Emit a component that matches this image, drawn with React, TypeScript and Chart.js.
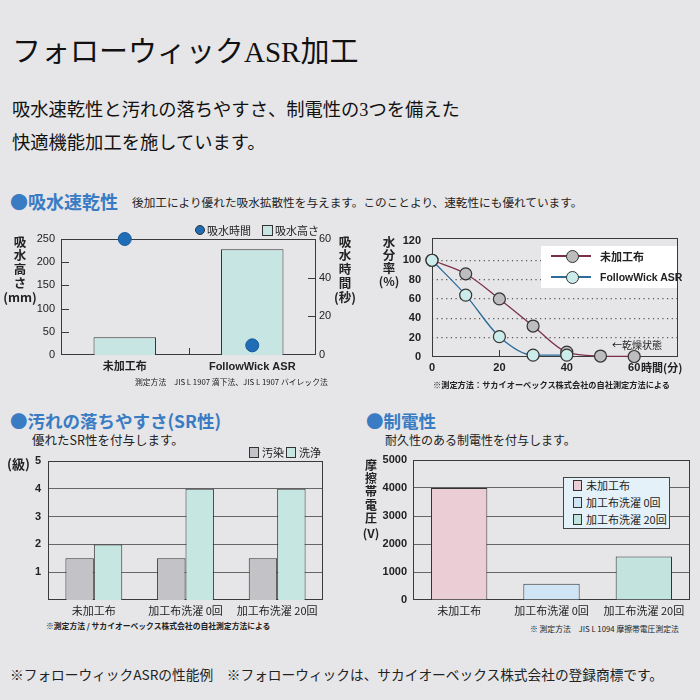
import React, { useEffect, useRef } from "react";
import { Chart, registerables } from "chart.js";
Chart.register(...registerables);

const SANS = "'Liberation Sans', 'Noto Sans CJK JP', sans-serif";
const JP = "'Noto Sans CJK JP', 'Noto Sans', sans-serif";
const SERIF = "'Liberation Serif', 'Noto Sans CJK JP', serif";
const BG = "#e6e6e8";
const BLUE = "#3a7cc3";
const INK = "#222222";
const FRAME = "#3a3a3a";

// ---------- data ----------
const absorbCategories = ["未加工布", "FollowWick ASR"];
const absorbHeightMm = [38, 228];
const absorbTimeSec = [60, 5];
const absorbHeightTicks = [0, 50, 100, 150, 200, 250];
const absorbTimeTicks = [0, 20, 40, 60];

const dryMinutes = [0, 10, 20, 30, 40, 50, 60];
const dryUntreated = [100, 86, 60, 32, 5, 1, 0.5];
const dryFollowWick = [100, 64, 21, 2, 2];
const dryMinuteTicks = [0, 20, 40, 60];
const dryMoistureTicks = [0, 20, 40, 60, 80, 100, 120];

const srCategories = ["未加工布", "加工布洗濯 0回", "加工布洗濯 20回"];
const srStain = [1.5, 1.5, 1.5];
const srWash = [2, 4, 4];
const srGradeTicks = [1, 2, 3, 4, 5];

const staticCategories = ["未加工布", "加工布洗濯 0回", "加工布洗濯 20回"];
const staticVoltage = [4000, 580, 1550];
const staticVoltageTicks = [0, 1000, 2000, 3000, 4000, 5000];
const staticColors = ["#ebcdd5", "#cfe4f4", "#c3e4de"];

// ---------- helpers ----------
type Seg = [number, number, number, number];
function framePlugin(extra?: (c: any) => Seg[]) {
  return {
    id: "frame",
    beforeDatasetsDraw(chart: any) {
      const { ctx, chartArea: a } = chart;
      ctx.save();
      ctx.strokeStyle = FRAME;
      ctx.lineWidth = 1;
      const l = Math.round(a.left) + 0.5;
      const t = Math.round(a.top) + 0.5;
      const r = Math.round(a.right) - 0.5;
      const b = Math.round(a.bottom) - 0.5;
      ctx.strokeRect(l, t, r - l, b - t);
      if (extra) {
        for (const [x1, y1, x2, y2] of extra(chart)) {
          ctx.beginPath();
          ctx.moveTo(x1, y1);
          ctx.lineTo(x2, y2);
          ctx.stroke();
        }
      }
      ctx.restore();
    },
  };
}

const base = {
  responsive: true,
  maintainAspectRatio: false,
  animation: false as const,
  events: [] as any[],
};
const noLegend = { legend: { display: false }, tooltip: { enabled: false } };
const setTicks = (vals: number[]) => (s: any) => {
  s.ticks = vals.map((v) => ({ value: v }));
};
const plain = (v: any) => String(v);
const fixY = (w: number) => (s: any) => {
  s.width = w;
  s.paddingTop = 0;
  s.paddingBottom = 0;
};
const fixX = (h: number) => (s: any) => {
  s.height = h;
  s.paddingLeft = 0;
  s.paddingRight = 0;
};

function ChartBox({ box, make }: { box: any; make: () => any }) {
  const ref = useRef<HTMLCanvasElement>(null);
  useEffect(() => {
    const chart = new Chart(ref.current as HTMLCanvasElement, make());
    return () => chart.destroy();
  }, []);
  return (
    <div style={{ position: "absolute", ...box }}>
      <canvas ref={ref} />
    </div>
  );
}

const T = ({ x, y, s, w, c, ff, children, center, ls }: any) => (
  <div
    style={{
      position: "absolute",
      left: x,
      top: y - s / 2,
      fontSize: s,
      lineHeight: 1,
      fontWeight: w || 400,
      color: c || INK,
      fontFamily: ff || JP,
      whiteSpace: "nowrap",
      letterSpacing: ls,
      transform: center ? "translateX(-50%)" : undefined,
    }}
  >
    {children}
  </div>
);

const V = ({ x, y0, step, s, chars }: any) => (
  <>
    {chars.map((ch: string, i: number) => (
      <T key={i} x={x} y={y0 + i * step} s={s} w={700} center>
        {ch}
      </T>
    ))}
  </>
);

const Sq = ({ x, y, w, h, c, r }: any) => (
  <div
    style={{
      position: "absolute",
      left: x,
      top: y,
      width: w,
      height: h,
      background: c,
      border: "1px solid #333",
      boxSizing: "border-box",
      borderRadius: r,
    }}
  />
);

// ---------- chart configs ----------
const absorbConfig = () => ({
  type: "bar",
  data: {
    labels: absorbCategories,
    datasets: [
      {
        type: "line",
        label: "吸水時間",
        data: absorbTimeSec,
        yAxisID: "yTime",
        showLine: false,
        pointRadius: 6.5,
        pointBackgroundColor: "#1f6db6",
        pointBorderColor: "#1a5a99",
        pointBorderWidth: 1,
        clip: false,
        order: 0,
      },
      {
        type: "bar",
        label: "吸水高さ",
        data: absorbHeightMm,
        yAxisID: "yHeight",
        backgroundColor: "#c7e5e3",
        borderColor: "#333",
        borderWidth: 1,
        categoryPercentage: 0.49,
        barPercentage: 1,
        order: 1,
      },
    ],
  },
  options: {
    ...base,
    layout: { padding: { top: 7 }, autoPadding: false },
    plugins: noLegend,
    scales: {
      x: {
        offset: true,
        grid: { display: false, drawTicks: false },
        border: { display: false },
        ticks: { font: { family: SANS, size: 11, weight: "bold" }, color: INK, padding: 5 },
        afterFit: fixX(23),
      },
      yHeight: {
        position: "left",
        min: 0,
        max: 250,
        afterBuildTicks: setTicks(absorbHeightTicks),
        grid: { display: false, drawTicks: false },
        border: { display: false },
        ticks: { font: { family: SANS, size: 11 }, color: INK, padding: 6, callback: plain },
        afterFit: fixY(41),
      },
      yTime: {
        position: "right",
        min: 0,
        max: 60,
        afterBuildTicks: setTicks(absorbTimeTicks),
        grid: { display: false, drawTicks: false },
        border: { display: false },
        ticks: { font: { family: SANS, size: 11 }, color: INK, padding: 3, callback: plain },
        afterFit: fixY(34),
      },
    },
  },
  plugins: [
    framePlugin((c: any) => {
      const a = c.chartArea;
      const yl = c.scales.yHeight;
      const yr = c.scales.yTime;
      const xs = c.scales.x;
      const segs: Seg[] = [];
      [50, 100, 150, 200].forEach((v) => {
        const y = Math.round(yl.getPixelForValue(v)) + 0.5;
        segs.push([a.left, y, a.left + 8, y]);
      });
      [20, 40].forEach((v) => {
        const y = Math.round(yr.getPixelForValue(v)) + 0.5;
        segs.push([a.right - 8, y, a.right, y]);
      });
      const mx = Math.round((xs.getPixelForValue(0) + xs.getPixelForValue(1)) / 2) + 0.5;
      segs.push([mx, a.bottom, mx, a.bottom - 7]);
      return segs;
    }),
  ],
});

const dryConfig = () => ({
  type: "line",
  data: {
    datasets: [
      {
        label: "FollowWick ASR",
        data: dryFollowWick.map((v, i) => ({ x: dryMinutes[i], y: v })),
        borderColor: "#2b6d9a",
        borderWidth: 1.3,
        pointRadius: 6,
        pointBackgroundColor: "#cbecea",
        pointBorderColor: "#333",
        pointBorderWidth: 1.2,
        cubicInterpolationMode: "monotone",
        clip: false,
        order: 0,
      },
      {
        label: "未加工布",
        data: dryUntreated.map((v, i) => ({ x: dryMinutes[i], y: v })),
        borderColor: "#7c2f48",
        borderWidth: 1.3,
        pointRadius: 6,
        pointBackgroundColor: "#bdbdbf",
        pointBorderColor: "#333",
        pointBorderWidth: 1.2,
        cubicInterpolationMode: "monotone",
        clip: false,
        order: 1,
      },
    ],
  },
  options: {
    ...base,
    layout: { padding: { top: 8, right: 7 }, autoPadding: false },
    plugins: noLegend,
    scales: {
      x: {
        type: "linear",
        min: 0,
        max: 73,
        afterBuildTicks: setTicks(dryMinuteTicks),
        grid: { display: false, drawTicks: false },
        border: { display: false },
        ticks: { font: { family: SANS, size: 11, weight: "bold" }, color: INK, padding: 4, callback: plain },
        afterFit: fixX(18),
      },
      y: {
        min: 0,
        max: 123,
        afterBuildTicks: setTicks(dryMoistureTicks),
        grid: {
          drawTicks: false,
          color: (ctx: any) => (ctx.tick && ctx.tick.value > 0 && ctx.tick.value <= 100 ? "#555" : "rgba(0,0,0,0)"),
          lineWidth: 1.2,
        },
        border: { display: false, dash: [1.2, 3.5] },
        ticks: { font: { family: SANS, size: 11, weight: "bold" }, color: INK, padding: 11, callback: plain },
        afterFit: fixY(37),
      },
    },
  },
  plugins: [
    framePlugin((c: any) => {
      const a = c.chartArea;
      const xs = c.scales.x;
      return [20, 40].map((v) => {
        const x = Math.round(xs.getPixelForValue(v)) + 0.5;
        return [x, a.bottom, x, a.bottom - 7] as Seg;
      });
    }),
  ],
});

const gridSolid = (top: number) => (ctx: any) =>
  ctx.tick && ctx.tick.value > 0 && ctx.tick.value < top ? "#666" : "rgba(0,0,0,0)";

const srConfig = () => ({
  type: "bar",
  data: {
    labels: srCategories,
    datasets: [
      {
        label: "汚染",
        data: srStain,
        backgroundColor: "#c3c3c7",
        borderColor: "#333",
        borderWidth: 1,
        categoryPercentage: 0.62,
        barPercentage: 1,
      },
      {
        label: "洗浄",
        data: srWash,
        backgroundColor: "#c6e6e2",
        borderColor: "#333",
        borderWidth: 1,
        categoryPercentage: 0.62,
        barPercentage: 1,
      },
    ],
  },
  options: {
    ...base,
    layout: { padding: { top: 9, right: 7 }, autoPadding: false },
    plugins: noLegend,
    scales: {
      x: {
        grid: { display: false, drawTicks: false },
        border: { display: false },
        ticks: { font: { family: JP, size: 11 }, color: INK, padding: 4 },
        afterFit: fixX(17),
      },
      y: {
        min: 0,
        max: 5,
        afterBuildTicks: setTicks(srGradeTicks),
        grid: { drawTicks: false, color: gridSolid(5), lineWidth: 1 },
        border: { display: false },
        ticks: { font: { family: SANS, size: 11, weight: "bold" }, color: INK, padding: 7, callback: plain },
        afterFit: fixY(28),
      },
    },
  },
  plugins: [framePlugin()],
});

const staticConfig = () => ({
  type: "bar",
  data: {
    labels: staticCategories,
    datasets: [
      {
        label: "摩擦帯電圧",
        data: staticVoltage,
        backgroundColor: staticColors,
        borderColor: "#333",
        borderWidth: 1,
        categoryPercentage: 0.61,
        barPercentage: 1,
      },
    ],
  },
  options: {
    ...base,
    layout: { padding: { top: 6, right: 5 }, autoPadding: false },
    plugins: noLegend,
    scales: {
      x: {
        grid: { display: false, drawTicks: false },
        border: { display: false },
        ticks: { font: { family: JP, size: 11 }, color: INK, padding: 4 },
        afterFit: fixX(19),
      },
      y: {
        min: 0,
        max: 5000,
        afterBuildTicks: setTicks(staticVoltageTicks),
        grid: { drawTicks: false, color: gridSolid(5000), lineWidth: 1 },
        border: { display: false },
        ticks: { font: { family: SANS, size: 11, weight: "bold" }, color: INK, padding: 6, callback: plain },
        afterFit: fixY(38),
      },
    },
  },
  plugins: [framePlugin()],
});

export default function App() {
  return (
    <div
      style={{
        position: "absolute",
        left: 0,
        top: 0,
        width: 700,
        height: 700,
        background: BG,
        overflow: "hidden",
        fontFamily: JP,
        color: INK,
      }}
    >
      {/* title & intro */}
      <T x={12} y={52} s={29} ff={SERIF} c="#111">フォローウィックASR加工</T>
      <T x={12} y={110} s={18.3} ff={SERIF} c="#111">吸水速乾性と汚れの落ちやすさ、制電性の3つを備えた</T>
      <T x={12} y={143} s={18.3} ff={SERIF} c="#111">快適機能加工を施しています。</T>

      {/* section 1 */}
      <T x={10} y={201} s={18} w={700} c={BLUE}>●吸水速乾性</T>
      <T x={132} y={202} s={11.65}>後加工により優れた吸水拡散性を与えます。このことより、速乾性にも優れています。</T>

      {/* chart 1 */}
      <ChartBox box={{ left: 20, top: 232, width: 330, height: 146 }} make={absorbConfig} />
      <Sq x={195} y={225} w={10} h={10} c="#1f6db6" r="50%" />
      <T x={207} y={230} s={11}>吸水時間</T>
      <Sq x={262} y={225} w={11} h={11} c="#c7e5e3" />
      <T x={275} y={230} s={11}>吸水高さ</T>
      <V x={20} y0={242} step={13.6} s={12.5} chars={["吸", "水", "高", "さ"]} />
      <T x={20} y={297} s={12.5} w={700} center>(mm)</T>
      <V x={345} y0={242} step={13.6} s={12.5} chars={["吸", "水", "時", "間"]} />
      <T x={345} y={297} s={12.5} w={700} center>(秒)</T>
      <T x={135} y={382} s={7.8}>測定方法　JIS L 1907 滴下法、JIS L 1907 バイレック法</T>

      {/* chart 2 */}
      <ChartBox box={{ left: 395, top: 230, width: 290, height: 145 }} make={dryConfig} />
      <div style={{ position: "absolute", left: 541, top: 246, width: 136, height: 42, background: "#fff" }} />
      <div style={{ position: "absolute", left: 551, top: 255, width: 40, height: 1.5, background: "#7c2f48" }} />
      <Sq x={566} y={250} w={13} h={13} c="#bdbdbf" r="50%" />
      <T x={600} y={256} s={11} w={700}>未加工布</T>
      <div style={{ position: "absolute", left: 551, top: 276, width: 40, height: 1.5, background: "#2b6d9a" }} />
      <Sq x={566} y={271} w={13} h={13} c="#cbecea" r="50%" />
      <T x={600} y={277} s={10.5} w={700} ff={SANS}>FollowWick ASR</T>
      <V x={389} y0={242} step={13} s={12.5} chars={["水", "分", "率"]} />
      <T x={389} y={281} s={12} w={700} center>(%)</T>
      <T x={641} y={367} s={11} w={700}>時間(分)</T>
      <T x={612} y={345} s={10}>←乾燥状態</T>
      <T x={433} y={384} s={8.2} w={700}>※測定方法：サカイオーベックス株式会社の自社測定方法による</T>

      {/* section 2 */}
      <T x={10} y={421} s={17.5} w={700} c={BLUE}>●汚れの落ちやすさ(SR性)</T>
      <T x={32} y={440} s={12.5}>優れたSR性を付与します。</T>
      <ChartBox box={{ left: 20, top: 452, width: 310, height: 165 }} make={srConfig} />
      <Sq x={249} y={447} w={10} h={11} c="#c3c3c7" />
      <T x={262} y={452} s={11}>汚染</T>
      <Sq x={286} y={447} w={10} h={11} c="#c6e6e2" />
      <T x={299} y={452} s={11}>洗浄</T>
      <T x={7} y={463} s={13} w={700}>(級)</T>
      <T x={46} y={626} s={7.8} w={700}>※測定方法 / サカイオーベックス株式会社の自社測定方法による</T>

      {/* section 3 */}
      <T x={366} y={421} s={17.5} w={700} c={BLUE}>●制電性</T>
      <T x={385} y={440} s={12}>耐久性のある制電性を付与します。</T>
      <ChartBox box={{ left: 375, top: 454, width: 320, height: 165 }} make={staticConfig} />
      <V x={371} y0={465} step={13.2} s={12} chars={["摩", "擦", "帯", "電", "圧"]} />
      <T x={371} y={533} s={12} w={700} center>(V)</T>
      <div
        style={{
          position: "absolute",
          left: 563,
          top: 477,
          width: 107,
          height: 52,
          background: "#e4f1f9",
          border: "1px solid #444",
          boxSizing: "border-box",
        }}
      />
      <Sq x={573} y={480} w={9} h={11} c={staticColors[0]} />
      <T x={586} y={485} s={11}>未加工布</T>
      <Sq x={573} y={497} w={9} h={11} c={staticColors[1]} />
      <T x={586} y={502} s={11}>加工布洗濯 0回</T>
      <Sq x={573} y={514} w={9} h={11} c={staticColors[2]} />
      <T x={586} y={519} s={11}>加工布洗濯 20回</T>
      <T x={530} y={629} s={7.8}>※ 測定方法　JIS L 1094 摩擦帯電圧測定法</T>

      {/* footer */}
      <T x={10} y={675} s={13.7}>※フォローウィックASRの性能例　※フォローウィックは、サカイオーベックス株式会社の登録商標です。</T>
    </div>
  );
}
